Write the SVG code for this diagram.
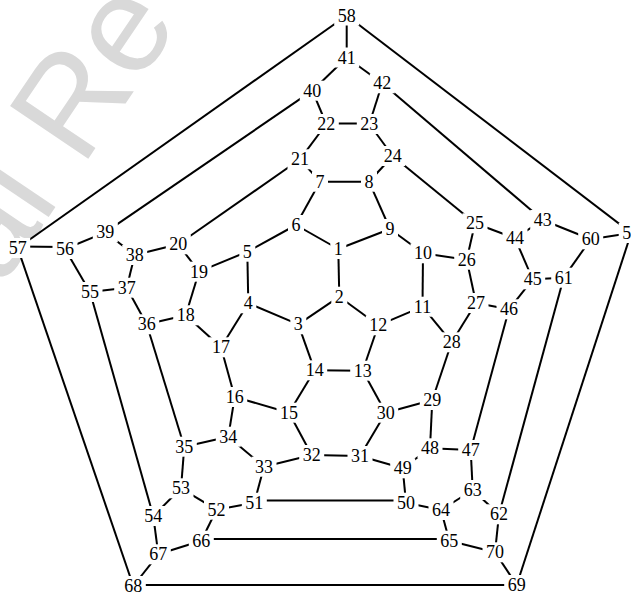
<svg xmlns="http://www.w3.org/2000/svg" width="631" height="592" viewBox="0 0 631 592">
<style>
.wm{font-family:"Liberation Sans",Arial,sans-serif;font-size:137px;fill:#d9d9d9}
.e line{stroke:#000;stroke-width:2;fill:none}
.n rect{fill:#fff;stroke:none}
.n text{font-family:"Liberation Serif","Times New Roman",serif;font-size:18px;text-anchor:middle;fill:#000}
</style>
<rect x="0" y="0" width="631" height="592" fill="#fff"/>
<text class="wm" transform="translate(1,288) rotate(-56)">al Re</text>
<g id="edges" class="e">
<line x1="346.7" y1="15.5" x2="346.7" y2="57.5"/>
<line x1="346.7" y1="15.5" x2="17.7" y2="248"/>
<line x1="346.7" y1="15.5" x2="631.2" y2="233"/>
<line x1="346.7" y1="57.5" x2="312.3" y2="90.7"/>
<line x1="346.7" y1="57.5" x2="382.3" y2="83.3"/>
<line x1="312.3" y1="90.7" x2="326.3" y2="124"/>
<line x1="382.3" y1="83.3" x2="369.3" y2="124"/>
<line x1="326.3" y1="123.5" x2="369.3" y2="123.5"/>
<line x1="312.3" y1="90.7" x2="105.3" y2="232.3"/>
<line x1="382.3" y1="83.3" x2="542.7" y2="220"/>
<line x1="326.3" y1="124" x2="300" y2="159.3"/>
<line x1="369.3" y1="124" x2="392.7" y2="156"/>
<line x1="300" y1="159.3" x2="320" y2="181.7"/>
<line x1="392.7" y1="156" x2="369" y2="181.7"/>
<line x1="320" y1="181.7" x2="369" y2="181.7"/>
<line x1="300" y1="159.3" x2="178.3" y2="244.3"/>
<line x1="392.7" y1="156" x2="475" y2="223.3"/>
<line x1="320" y1="181.7" x2="296" y2="225"/>
<line x1="369" y1="181.7" x2="390" y2="229"/>
<line x1="296" y1="225" x2="247.3" y2="251.7"/>
<line x1="296" y1="225" x2="338.3" y2="249"/>
<line x1="390" y1="229" x2="338.3" y2="249"/>
<line x1="390" y1="229" x2="423" y2="253.3"/>
<line x1="247.3" y1="251.7" x2="248.3" y2="303.3"/>
<line x1="247.3" y1="251.7" x2="199" y2="271.7"/>
<line x1="338.3" y1="249" x2="339.3" y2="296.7"/>
<line x1="339.3" y1="296.7" x2="298.3" y2="324.3"/>
<line x1="339.3" y1="296.7" x2="378.3" y2="325.3"/>
<line x1="248.3" y1="303.3" x2="298.3" y2="324.3"/>
<line x1="248.3" y1="303.3" x2="221" y2="347.3"/>
<line x1="378.3" y1="325.3" x2="422.5" y2="306.7"/>
<line x1="378.3" y1="325.3" x2="362.7" y2="370.7"/>
<line x1="423" y1="253.3" x2="422.5" y2="306.7"/>
<line x1="423" y1="253.3" x2="466.7" y2="259.7"/>
<line x1="298.3" y1="324.3" x2="314.7" y2="370.3"/>
<line x1="314.7" y1="370.3" x2="362.7" y2="370.7"/>
<line x1="221" y1="347.3" x2="185.7" y2="315.3"/>
<line x1="221" y1="347.3" x2="234.7" y2="397"/>
<line x1="234.7" y1="397" x2="289" y2="412.7"/>
<line x1="234.7" y1="397" x2="228.3" y2="436.7"/>
<line x1="289" y1="412.7" x2="314.7" y2="370.3"/>
<line x1="289" y1="412.7" x2="311.7" y2="455"/>
<line x1="362.7" y1="370.7" x2="385.7" y2="412.7"/>
<line x1="385.7" y1="412.7" x2="432.3" y2="400"/>
<line x1="385.7" y1="412.7" x2="360" y2="456"/>
<line x1="360" y1="456" x2="311.7" y2="455"/>
<line x1="360" y1="456" x2="402.7" y2="468.3"/>
<line x1="311.7" y1="455" x2="264" y2="466.7"/>
<line x1="264" y1="466.7" x2="228.3" y2="436.7"/>
<line x1="264" y1="466.7" x2="254.3" y2="502.7"/>
<line x1="228.3" y1="436.7" x2="184.3" y2="446.7"/>
<line x1="184.3" y1="446.7" x2="146.7" y2="324.3"/>
<line x1="184.3" y1="446.7" x2="181" y2="488.3"/>
<line x1="146.7" y1="324.3" x2="185.7" y2="315.3"/>
<line x1="146.7" y1="324.3" x2="126.7" y2="287.7"/>
<line x1="126.7" y1="287.7" x2="134.7" y2="255"/>
<line x1="126.7" y1="287.7" x2="90" y2="292"/>
<line x1="134.7" y1="255" x2="105.3" y2="232.3"/>
<line x1="134.7" y1="255" x2="178.3" y2="244.3"/>
<line x1="178.3" y1="244.3" x2="199" y2="271.7"/>
<line x1="199" y1="271.7" x2="185.7" y2="315.3"/>
<line x1="105.3" y1="232.3" x2="65" y2="249"/>
<line x1="65" y1="247" x2="17.7" y2="246.5"/>
<line x1="65" y1="249" x2="90" y2="292"/>
<line x1="90" y1="292" x2="153.3" y2="516"/>
<line x1="17.7" y1="248" x2="133.3" y2="586"/>
<line x1="153.3" y1="516" x2="181" y2="488.3"/>
<line x1="153.3" y1="516" x2="158.3" y2="554.3"/>
<line x1="181" y1="488.3" x2="216.5" y2="509.7"/>
<line x1="216.5" y1="509.7" x2="254.3" y2="502.7"/>
<line x1="216.5" y1="509.7" x2="201.3" y2="540.7"/>
<line x1="254.3" y1="500.5" x2="406" y2="500.5"/>
<line x1="406" y1="502.7" x2="402.7" y2="468.3"/>
<line x1="406" y1="502.7" x2="441" y2="510"/>
<line x1="402.7" y1="468.3" x2="430" y2="448.3"/>
<line x1="430" y1="448.3" x2="432.3" y2="400"/>
<line x1="430" y1="448.3" x2="470.7" y2="450"/>
<line x1="432.3" y1="400" x2="451.7" y2="342.3"/>
<line x1="451.7" y1="342.3" x2="422.5" y2="306.7"/>
<line x1="451.7" y1="342.3" x2="476" y2="303"/>
<line x1="476" y1="303" x2="466.7" y2="259.7"/>
<line x1="476" y1="303" x2="509" y2="309.3"/>
<line x1="466.7" y1="259.7" x2="475" y2="223.3"/>
<line x1="475" y1="223.3" x2="515" y2="238.3"/>
<line x1="515" y1="238.3" x2="542.7" y2="220"/>
<line x1="515" y1="238.3" x2="532.7" y2="279.3"/>
<line x1="542.7" y1="220" x2="590.7" y2="239.3"/>
<line x1="590.7" y1="239.3" x2="631.2" y2="233"/>
<line x1="590.7" y1="239.3" x2="563.7" y2="277.7"/>
<line x1="563.7" y1="277.7" x2="532.7" y2="279.3"/>
<line x1="563.7" y1="277.7" x2="499" y2="514.3"/>
<line x1="532.7" y1="279.3" x2="509" y2="309.3"/>
<line x1="509" y1="309.3" x2="470.7" y2="450"/>
<line x1="470.7" y1="450" x2="472.7" y2="490"/>
<line x1="472.7" y1="490" x2="441" y2="510"/>
<line x1="472.7" y1="490" x2="499" y2="514.3"/>
<line x1="441" y1="510" x2="449.3" y2="540.7"/>
<line x1="449.3" y1="539" x2="201.3" y2="539"/>
<line x1="449.3" y1="540.7" x2="495" y2="552.3"/>
<line x1="201.3" y1="540.7" x2="158.3" y2="554.3"/>
<line x1="158.3" y1="554.3" x2="133.3" y2="586"/>
<line x1="133.3" y1="585" x2="516.7" y2="585"/>
<line x1="516.7" y1="585" x2="495" y2="552.3"/>
<line x1="516.7" y1="585" x2="631.2" y2="233"/>
<line x1="495" y1="552.3" x2="499" y2="514.3"/>
</g>
<g id="n1" class="n"><rect x="330.3" y="239" width="16" height="20"/><text x="338.3" y="255">1</text></g>
<g id="n2" class="n"><rect x="331.3" y="286.7" width="16" height="20"/><text x="339.3" y="302.7">2</text></g>
<g id="n3" class="n"><rect x="290.3" y="314.3" width="16" height="20"/><text x="298.3" y="330.3">3</text></g>
<g id="n4" class="n"><rect x="240.3" y="293.3" width="16" height="20"/><text x="248.3" y="309.3">4</text></g>
<g id="n5" class="n"><rect x="239.3" y="241.7" width="16" height="20"/><text x="247.3" y="257.7">5</text></g>
<g id="n6" class="n"><rect x="288" y="215" width="16" height="20"/><text x="296" y="231">6</text></g>
<g id="n7" class="n"><rect x="312" y="171.7" width="16" height="20"/><text x="320" y="187.7">7</text></g>
<g id="n8" class="n"><rect x="361" y="171.7" width="16" height="20"/><text x="369" y="187.7">8</text></g>
<g id="n9" class="n"><rect x="382" y="219" width="16" height="20"/><text x="390" y="235">9</text></g>
<g id="n10" class="n"><rect x="410.5" y="243.3" width="25" height="20"/><text x="423" y="259.3">10</text></g>
<g id="n11" class="n"><rect x="410" y="296.7" width="25" height="20"/><text x="422.5" y="312.7">11</text></g>
<g id="n12" class="n"><rect x="365.8" y="315.3" width="25" height="20"/><text x="378.3" y="331.3">12</text></g>
<g id="n13" class="n"><rect x="350.2" y="360.7" width="25" height="20"/><text x="362.7" y="376.7">13</text></g>
<g id="n14" class="n"><rect x="302.2" y="360.3" width="25" height="20"/><text x="314.7" y="376.3">14</text></g>
<g id="n15" class="n"><rect x="276.5" y="402.7" width="25" height="20"/><text x="289" y="418.7">15</text></g>
<g id="n16" class="n"><rect x="222.2" y="387" width="25" height="20"/><text x="234.7" y="403">16</text></g>
<g id="n17" class="n"><rect x="208.5" y="337.3" width="25" height="20"/><text x="221" y="353.3">17</text></g>
<g id="n18" class="n"><rect x="173.2" y="305.3" width="25" height="20"/><text x="185.7" y="321.3">18</text></g>
<g id="n19" class="n"><rect x="186.5" y="261.7" width="25" height="20"/><text x="199" y="277.7">19</text></g>
<g id="n20" class="n"><rect x="165.8" y="234.3" width="25" height="20"/><text x="178.3" y="250.3">20</text></g>
<g id="n21" class="n"><rect x="287.5" y="149.3" width="25" height="20"/><text x="300" y="165.3">21</text></g>
<g id="n22" class="n"><rect x="313.8" y="114" width="25" height="20"/><text x="326.3" y="130">22</text></g>
<g id="n23" class="n"><rect x="356.8" y="114" width="25" height="20"/><text x="369.3" y="130">23</text></g>
<g id="n24" class="n"><rect x="380.2" y="146" width="25" height="20"/><text x="392.7" y="162">24</text></g>
<g id="n25" class="n"><rect x="462.5" y="213.3" width="25" height="20"/><text x="475" y="229.3">25</text></g>
<g id="n26" class="n"><rect x="454.2" y="249.7" width="25" height="20"/><text x="466.7" y="265.7">26</text></g>
<g id="n27" class="n"><rect x="463.5" y="293" width="25" height="20"/><text x="476" y="309">27</text></g>
<g id="n28" class="n"><rect x="439.2" y="332.3" width="25" height="20"/><text x="451.7" y="348.3">28</text></g>
<g id="n29" class="n"><rect x="419.8" y="390" width="25" height="20"/><text x="432.3" y="406">29</text></g>
<g id="n30" class="n"><rect x="373.2" y="402.7" width="25" height="20"/><text x="385.7" y="418.7">30</text></g>
<g id="n31" class="n"><rect x="347.5" y="446" width="25" height="20"/><text x="360" y="462">31</text></g>
<g id="n32" class="n"><rect x="299.2" y="445" width="25" height="20"/><text x="311.7" y="461">32</text></g>
<g id="n33" class="n"><rect x="251.5" y="456.7" width="25" height="20"/><text x="264" y="472.7">33</text></g>
<g id="n34" class="n"><rect x="215.8" y="426.7" width="25" height="20"/><text x="228.3" y="442.7">34</text></g>
<g id="n35" class="n"><rect x="171.8" y="436.7" width="25" height="20"/><text x="184.3" y="452.7">35</text></g>
<g id="n36" class="n"><rect x="134.2" y="314.3" width="25" height="20"/><text x="146.7" y="330.3">36</text></g>
<g id="n37" class="n"><rect x="114.2" y="277.7" width="25" height="20"/><text x="126.7" y="293.7">37</text></g>
<g id="n38" class="n"><rect x="122.2" y="245" width="25" height="20"/><text x="134.7" y="261">38</text></g>
<g id="n39" class="n"><rect x="92.8" y="222.3" width="25" height="20"/><text x="105.3" y="238.3">39</text></g>
<g id="n40" class="n"><rect x="299.8" y="80.7" width="25" height="20"/><text x="312.3" y="96.7">40</text></g>
<g id="n41" class="n"><rect x="334.2" y="47.5" width="25" height="20"/><text x="346.7" y="63.5">41</text></g>
<g id="n42" class="n"><rect x="369.8" y="73.3" width="25" height="20"/><text x="382.3" y="89.3">42</text></g>
<g id="n43" class="n"><rect x="530.2" y="210" width="25" height="20"/><text x="542.7" y="226">43</text></g>
<g id="n44" class="n"><rect x="502.5" y="228.3" width="25" height="20"/><text x="515" y="244.3">44</text></g>
<g id="n45" class="n"><rect x="520.2" y="269.3" width="25" height="20"/><text x="532.7" y="285.3">45</text></g>
<g id="n46" class="n"><rect x="496.5" y="299.3" width="25" height="20"/><text x="509" y="315.3">46</text></g>
<g id="n47" class="n"><rect x="458.2" y="440" width="25" height="20"/><text x="470.7" y="456">47</text></g>
<g id="n48" class="n"><rect x="417.5" y="438.3" width="25" height="20"/><text x="430" y="454.3">48</text></g>
<g id="n49" class="n"><rect x="390.2" y="458.3" width="25" height="20"/><text x="402.7" y="474.3">49</text></g>
<g id="n50" class="n"><rect x="393.5" y="492.7" width="25" height="20"/><text x="406" y="508.7">50</text></g>
<g id="n51" class="n"><rect x="241.8" y="492.7" width="25" height="20"/><text x="254.3" y="508.7">51</text></g>
<g id="n52" class="n"><rect x="204" y="499.7" width="25" height="20"/><text x="216.5" y="515.7">52</text></g>
<g id="n53" class="n"><rect x="168.5" y="478.3" width="25" height="20"/><text x="181" y="494.3">53</text></g>
<g id="n54" class="n"><rect x="140.8" y="506" width="25" height="20"/><text x="153.3" y="522">54</text></g>
<g id="n55" class="n"><rect x="77.5" y="282" width="25" height="20"/><text x="90" y="298">55</text></g>
<g id="n56" class="n"><rect x="52.5" y="239" width="25" height="20"/><text x="65" y="255">56</text></g>
<g id="n57" class="n"><rect x="5.2" y="238" width="25" height="20"/><text x="17.7" y="254">57</text></g>
<g id="n58" class="n"><rect x="334.2" y="5.5" width="25" height="20"/><text x="346.7" y="21.5">58</text></g>
<g id="n59" class="n"><rect x="618.7" y="223" width="25" height="20"/><text x="631.2" y="239">59</text></g>
<g id="n60" class="n"><rect x="578.2" y="229.3" width="25" height="20"/><text x="590.7" y="245.3">60</text></g>
<g id="n61" class="n"><rect x="551.2" y="267.7" width="25" height="20"/><text x="563.7" y="283.7">61</text></g>
<g id="n62" class="n"><rect x="486.5" y="504.3" width="25" height="20"/><text x="499" y="520.3">62</text></g>
<g id="n63" class="n"><rect x="460.2" y="480" width="25" height="20"/><text x="472.7" y="496">63</text></g>
<g id="n64" class="n"><rect x="428.5" y="500" width="25" height="20"/><text x="441" y="516">64</text></g>
<g id="n65" class="n"><rect x="436.8" y="530.7" width="25" height="20"/><text x="449.3" y="546.7">65</text></g>
<g id="n66" class="n"><rect x="188.8" y="530.7" width="25" height="20"/><text x="201.3" y="546.7">66</text></g>
<g id="n67" class="n"><rect x="145.8" y="544.3" width="25" height="20"/><text x="158.3" y="560.3">67</text></g>
<g id="n68" class="n"><rect x="120.8" y="576" width="25" height="20"/><text x="133.3" y="592">68</text></g>
<g id="n69" class="n"><rect x="504.2" y="575" width="25" height="20"/><text x="516.7" y="591">69</text></g>
<g id="n70" class="n"><rect x="482.5" y="542.3" width="25" height="20"/><text x="495" y="558.3">70</text></g>
</svg>
